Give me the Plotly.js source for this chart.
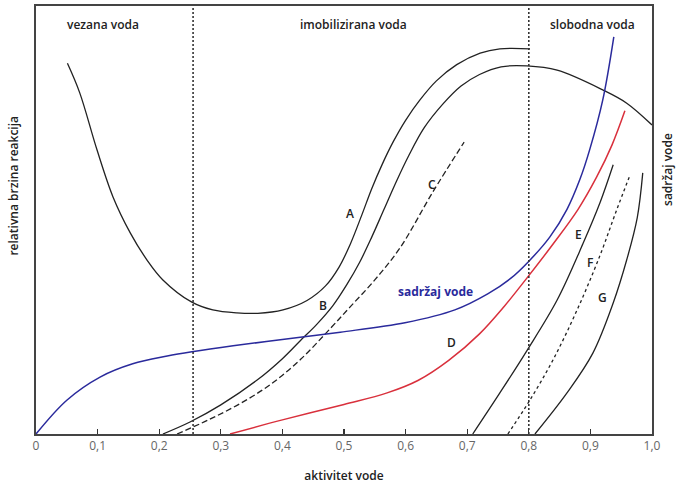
<!DOCTYPE html>
<html>
<head>
<meta charset="utf-8">
<script src="https://cdn.plot.ly/plotly-3.0.1.min.js"></script>
<style>html,body{margin:0;padding:0;background:#fff}#chart{width:678px;height:487px}</style>
</head>
<body>
<div id="chart"></div>
<script>
// ---- data ----
const curveA_x = [0.051,0.071,0.099,0.125,0.153,0.180,0.206,0.253,0.287,0.326,0.360,0.401,0.440,0.470,0.492,0.510,0.529,0.545,0.562,0.580,0.600,0.623,0.650,0.683,0.721,0.753,0.802];
const curveA_y = [86.6,79.7,66.4,55.4,47.0,40.7,36.0,30.8,29.0,28.3,28.2,29.0,31.2,34.6,39.0,44.3,51.2,57.3,63.0,68.3,73.3,78.0,82.5,86.3,89.0,90.0,90.0];

const curveB_x = [0.206,0.250,0.300,0.359,0.400,0.429,0.455,0.482,0.505,0.525,0.545,0.565,0.585,0.605,0.630,0.660,0.690,0.720,0.755,0.797,0.846,0.920,0.959,1.0];
const curveB_y = [0,2.8,6.8,12.6,17.6,21.8,25.5,30.0,35.0,40.0,46.0,52.5,59.0,65.0,71.5,77.0,81.3,84.0,85.8,86.0,85.0,80.4,77.3,72.2];

const curveC_x = [0.229,0.280,0.330,0.380,0.430,0.480,0.510,0.550,0.591,0.644,0.695];
const curveC_y = [0,3.3,7.0,11.5,17.5,25.0,29.7,36.0,43.5,56.5,68.2];

const waterContent_x = [0,0.050,0.104,0.157,0.213,0.253,0.320,0.429,0.494,0.599,0.680,0.734,0.771,0.799,0.834,0.862,0.883,0.899,0.920,0.938];
const waterContent_y = [0,7.9,13.3,16.4,18.2,19.2,20.6,22.6,23.8,26.0,29.0,32.8,36.4,40.2,46.0,52.5,59.5,66.5,78.0,92.8];

const curveD_x = [0.315,0.400,0.500,0.570,0.620,0.670,0.720,0.760,0.800,0.840,0.880,0.910,0.935,0.956];
const curveD_y = [0,3.3,6.9,9.6,12.5,17.2,23.4,29.8,37.0,44.5,52.5,60.0,67.5,75.5];

const curveE_x = [0.709,0.753,0.797,0.846,0.888,0.916,0.937];
const curveE_y = [0,9.6,19.5,31.3,44.5,54.2,62.9];

const curveF_x = [0.766,0.800,0.840,0.880,0.915,0.943,0.963];
const curveF_y = [0,7.5,17.5,29.5,41.5,52.5,60.0];

const curveG_x = [0.810,0.862,0.904,0.937,0.959,0.976,0.985];
const curveG_y = [0,9.6,18.9,30.6,40.7,50.5,61.0];

const zoneBoundaries = [0.255, 0.8];
const zoneNames = ["vezana voda", "imobilizirana voda", "slobodna voda"];
const zoneNameX = [0.109, 0.515, 0.904];

const curveLabels = ["A","B","C","D","E","F","G"];
const curveLabelX = [0.510,0.466,0.643,0.675,0.880,0.899,0.920];
const curveLabelY = [51.6,30.1,58.2,21.3,46.5,40.0,32.0];

const tickVals = [0,0.1,0.2,0.3,0.4,0.5,0.6,0.7,0.8,0.9,1.0];
const tickText = ["0","0,1","0,2","0,3","0,4","0,5","0,6","0,7","0,8","0,9","1,0"];

// ---- styles ----
const blk = "#222";
function line(x, y, color, dash, width) {
  return {x: x, y: y, type: "scatter", mode: "lines", hoverinfo: "skip",
          line: {color: color, width: width || 1.3, dash: dash || "solid", shape: "spline", smoothing: 1.0}};
}
const traces = [
  line(curveA_x, curveA_y, blk),
  line(curveB_x, curveB_y, blk),
  line(curveC_x, curveC_y, blk, "6px,3px"),
  line(waterContent_x, waterContent_y, "#2a2a9c", "solid", 1.5),
  line(curveD_x, curveD_y, "#d9303c", "solid", 1.5),
  line(curveE_x, curveE_y, blk),
  line(curveF_x, curveF_y, blk, "3px,3px"),
  line(curveG_x, curveG_y, blk)
];
zoneBoundaries.forEach(function (b) {
  traces.push({x: [b, b], y: [0, 100], type: "scatter", mode: "lines", hoverinfo: "skip",
               line: {color: "#333", width: 1.6, dash: "2px,2px"}});
});

const labelFont = {family: "Open Sans, Liberation Sans, sans-serif", size: 12, color: "#222", weight: 600};
const annotations = [];
zoneNames.forEach(function (t, i) {
  annotations.push({x: zoneNameX[i], y: 95.6, xref: "x", yref: "y", text: t, showarrow: false,
                    font: labelFont, xanchor: "center", yanchor: "middle"});
});
curveLabels.forEach(function (t, i) {
  annotations.push({x: curveLabelX[i], y: curveLabelY[i], xref: "x", yref: "y", text: t, showarrow: false,
                    font: labelFont, xanchor: "center", yanchor: "middle"});
});
annotations.push({x: 0.649, y: 33.4, xref: "x", yref: "y", text: "sadržaj vode", showarrow: false,
                  font: {family: "Open Sans, Liberation Sans, sans-serif", size: 12, color: "#2a2a9c", weight: 700},
                  xanchor: "center", yanchor: "middle"});
annotations.push({x: -0.036, y: 0.58, xref: "paper", yref: "paper", text: "relativna brzina reakcija", showarrow: false,
                  textangle: -90, font: labelFont, xanchor: "center", yanchor: "middle"});
annotations.push({x: 1.026, y: 0.617, xref: "paper", yref: "paper", text: "sadržaj vode", showarrow: false,
                  textangle: -90, font: labelFont, xanchor: "center", yanchor: "middle"});

const layout = {
  width: 678, height: 487,
  margin: {l: 36, r: 26, t: 6, b: 53},
  paper_bgcolor: "#fff", plot_bgcolor: "#fff",
  showlegend: false,
  xaxis: {range: [0, 1], tickvals: tickVals, ticktext: tickText, ticks: "inside", ticklen: 5, tickwidth: 1.2,
          tickcolor: "#333", showgrid: false, zeroline: false, showline: true, mirror: true,
          linecolor: "#444", linewidth: 1.6,
          tickfont: {family: "Open Sans, Liberation Sans, sans-serif", size: 12, color: "#666"},
          title: {text: "aktivitet vode", standoff: 18, font: labelFont}},
  yaxis: {range: [0, 100], showticklabels: false, ticks: "", showgrid: false, zeroline: false,
          showline: true, mirror: true, linecolor: "#444", linewidth: 1.6},
  annotations: annotations
};
Plotly.newPlot("chart", traces, layout, {staticPlot: true, displayModeBar: false});
</script>
</body>
</html>
